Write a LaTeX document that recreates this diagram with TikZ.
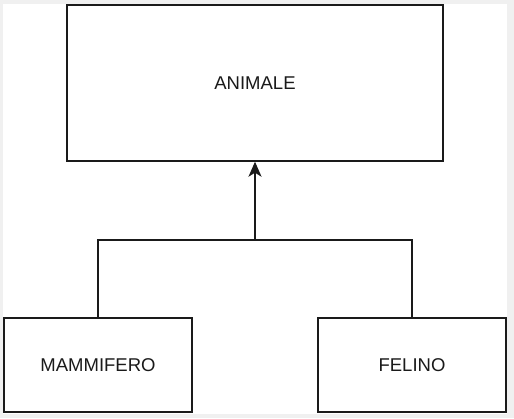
\documentclass[tikz,border=0pt]{standalone}
\usepackage{fontspec}
\setmainfont{Liberation Sans}
\usetikzlibrary{arrows.meta}
\definecolor{framegray}{HTML}{F0F0F0}
\definecolor{linecol}{HTML}{1A1A1A}
\tikzset{
  box/.style={draw=linecol, line width=1.4pt, fill=white, inner sep=0pt, font=\fontsize{18.5}{21}\selectfont, text=linecol},
  conn/.style={draw=linecol, line width=1.4pt},
}
\begin{document}
\begin{tikzpicture}[x=1pt,y=-1pt]
\useasboundingbox (0,0) rectangle (514,418);
\fill[framegray] (0,0) rectangle (514,418);
\fill[white] (3,4) rectangle (507,414);
\node[box, minimum width=376pt, minimum height=156pt] (animale) at (255,83) {ANIMALE};
\node[box, minimum width=188pt, minimum height=94pt] (mammifero) at (98,365) {MAMMIFERO};
\node[box, minimum width=188pt, minimum height=94pt] (felino) at (412,365) {FELINO};
\coordinate (j) at (255,240);
\draw[conn] (mammifero.north) |- (j);
\draw[conn] (felino.north) |- (j);
\draw[conn, -{Stealth[length=15pt,width=13pt,inset=4pt]}] (j) -- (animale.south);
\end{tikzpicture}
\end{document}
